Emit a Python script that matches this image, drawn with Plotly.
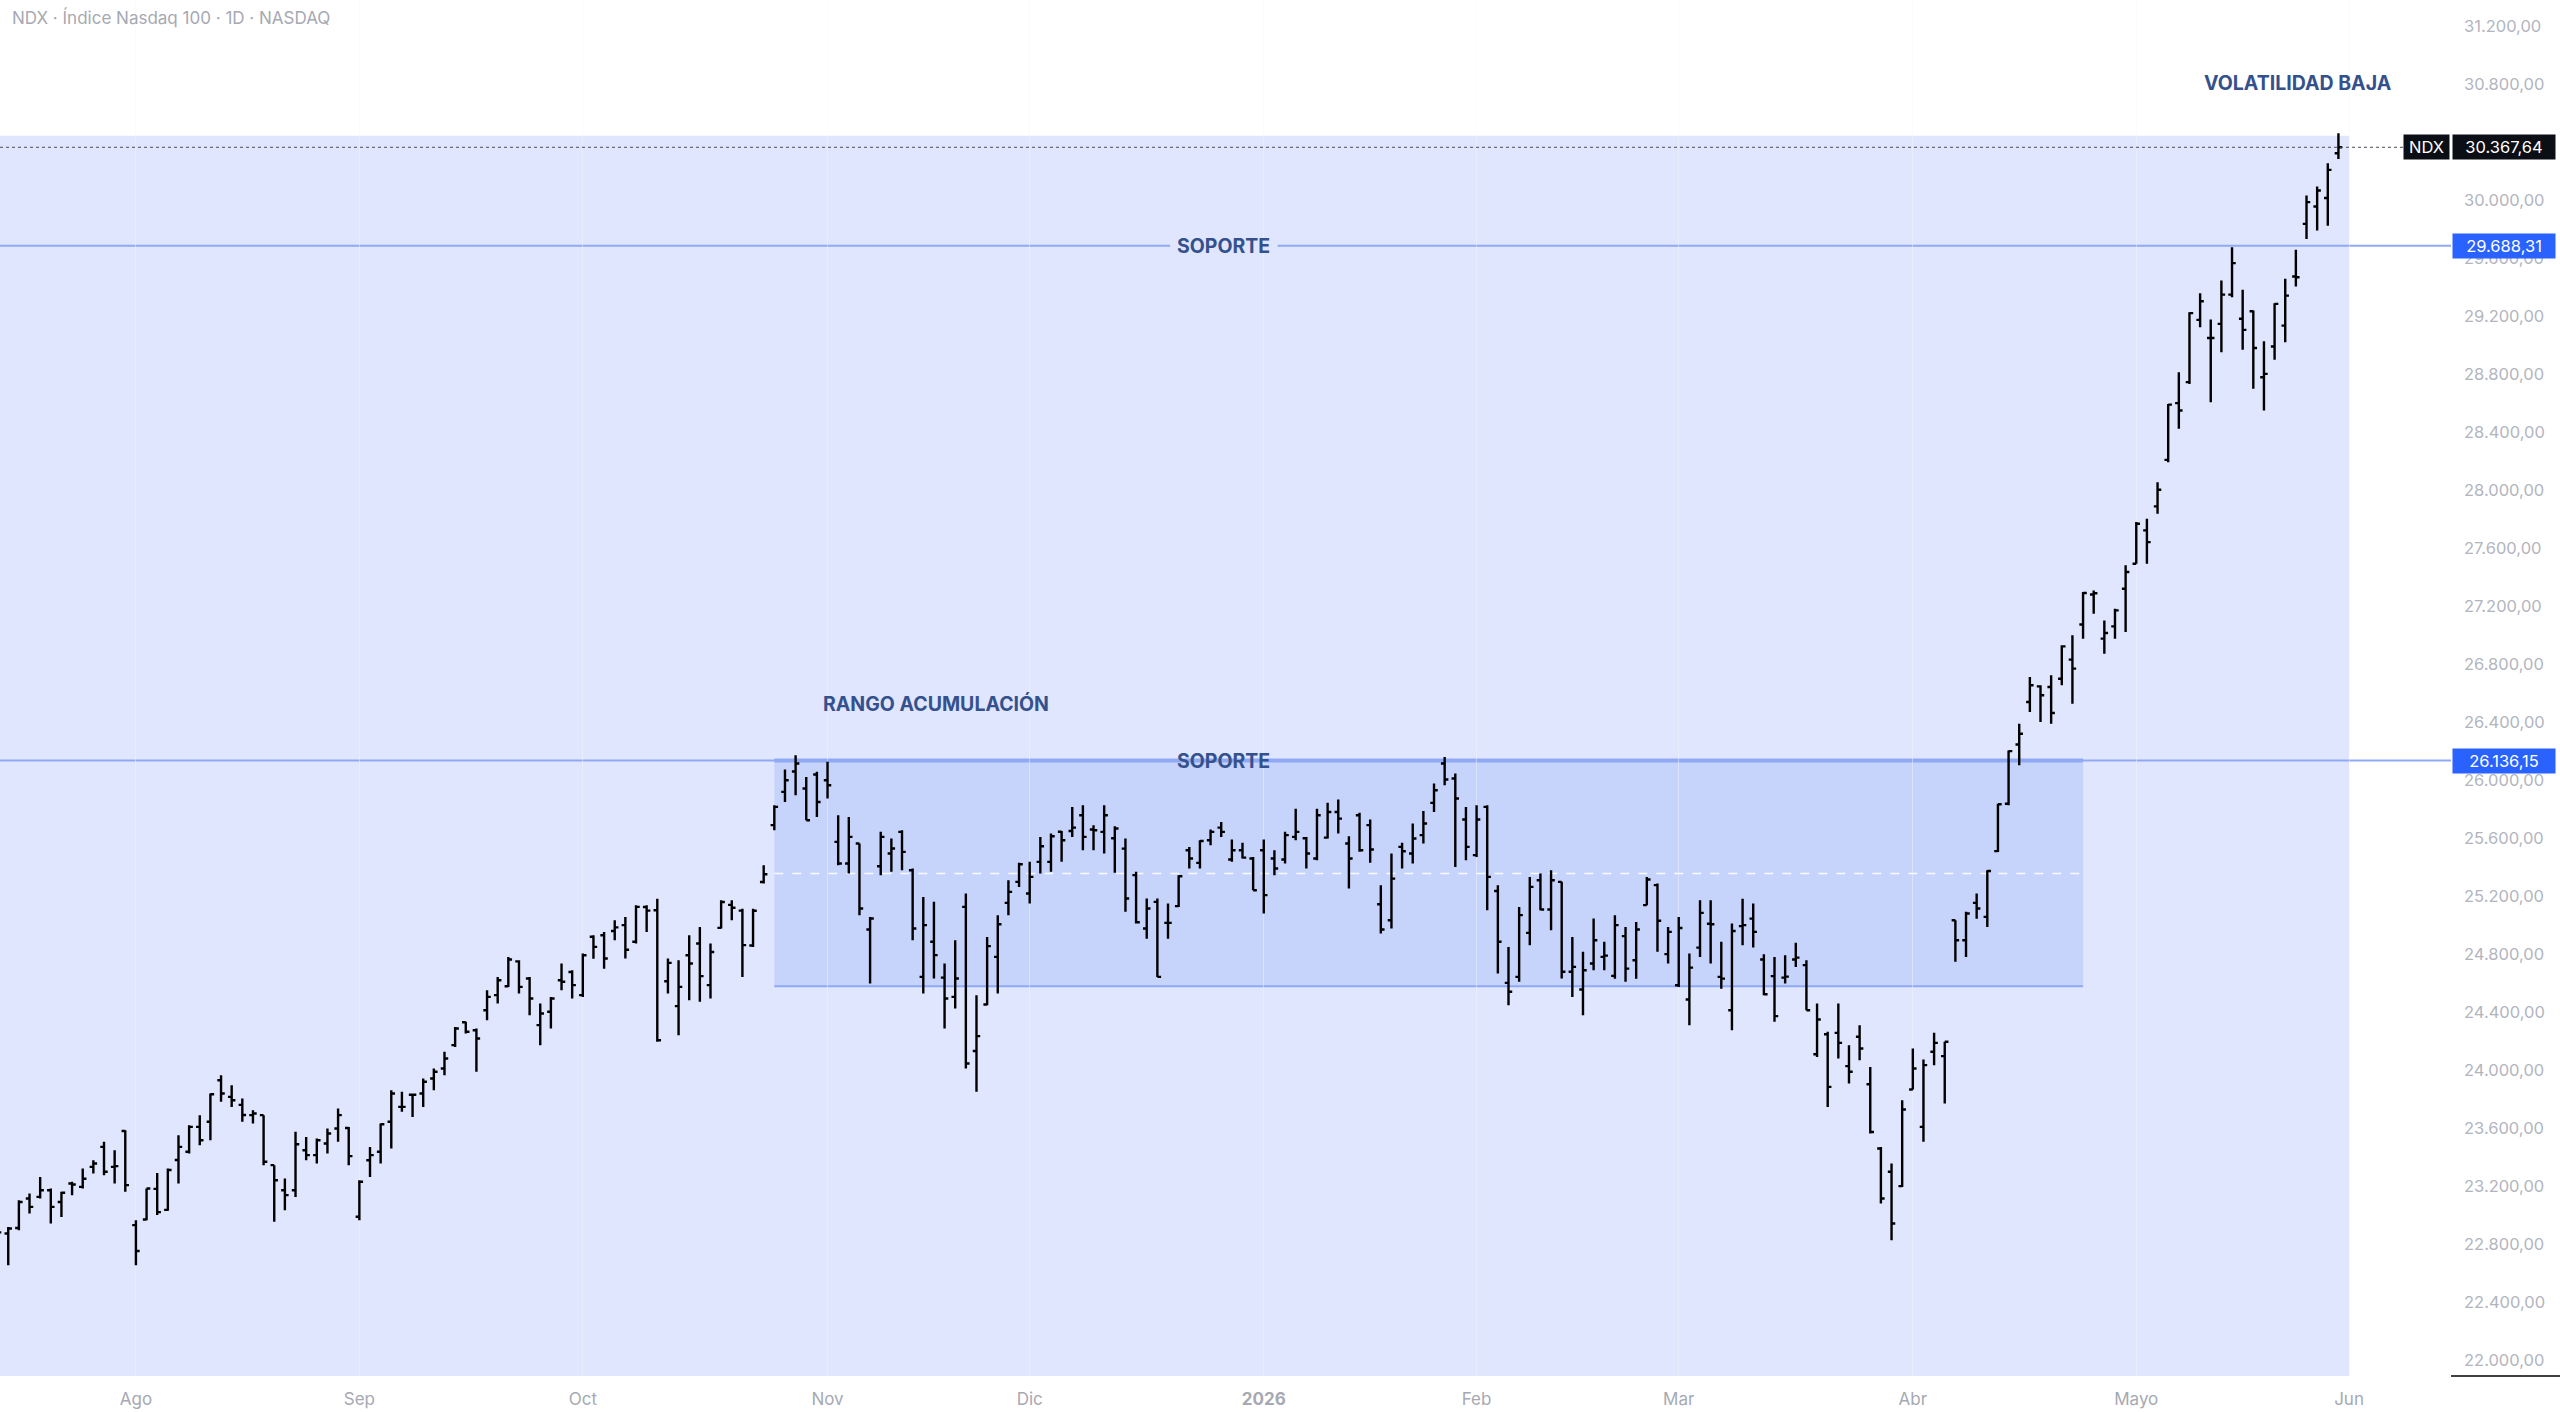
import pandas as pd
import plotly.graph_objects as go

# NASDAQ sessions shown on the chart (15 Jul 2025 - 29 May 2026)
holidays = ["2025-09-01", "2025-11-27", "2025-12-25", "2026-01-01",
            "2026-01-19", "2026-02-16", "2026-04-03", "2026-05-25"]
dates = pd.bdate_range("2025-07-15", "2026-05-29", freq="C", holidays=holidays)
date_str = list(dates.strftime("%Y-%m-%d"))

# daily OHLC
opens = [
    23000, 22872, 22910, 23114, 23125, 23171, 23090, 23217, 23194, 23332, 23470, 23332, 23580,  # jul
    22930, 22969, 23180, 23035, 23380, 23436, 23608, 23643, 23930, 23815, 23760, 23689, 23689,
    23344, 23171, 23171, 23447, 23413, 23493, 23597, 23600,  # ago
    22988, 23378, 23436, 23643, 23746, 23830, 23838, 23942, 24011, 24172, 24330, 24275, 24413,
    24517, 24578, 24750, 24632, 24310, 24402, 24620, 24677,  # sep
    24517, 24920, 24930, 24960, 25000, 24885, 25125, 25103, 24613, 24441, 24792, 24873, 24586,
    24981, 25140, 25100, 24860, 25298, 25690, 25920, 26060, 25943, 26040,  # oct
    26000, 25575, 25425, 25563, 24970, 25407, 25494, 25644, 25379, 24643, 24885, 24638, 24505,
    25126, 24132, 24452, 24781, 25154, 25299,  # nov
    25218, 25437, 25437, 25645, 25650, 25758, 25660, 25644, 25600, 25528, 25345, 24977, 25161,
    25016, 25131, 25517, 25430, 25586, 25673, 25453, 25517, 25460,  # dic
    25517, 25460, 25453, 25609, 25600, 25460, 25604, 25781, 25563, 25758, 25690, 25144, 25034,
    25540, 25494, 25621, 25844, 26115, 26012, 25729,  # ene
    25483, 25816, 25236, 24602, 24643, 24947, 25310, 25108, 25299, 24678, 24556, 24735, 24781,
    24650, 24924, 24758, 25138, 25276, 24800,  # feb
    24585, 24487, 24845, 25010, 24643, 24413, 24993, 25045, 24763, 24648, 24638, 24763, 24724,
    24109, 24247, 24257, 24027, 24230, 23902, 23459, 23298, 23199,  # mar
    23866, 23608, 24126, 24096, 25034, 24896, 25154, 25057, 25511, 25838, 26247, 26540, 26648,
    26643, 26700, 26832, 27075, 27282, 26977, 27062, 27321,  # abr
    27494, 27724, 27890, 28211, 28602, 28747, 29177, 29052, 29149, 29351, 29184, 29236, 28781,
    28993, 29137, 29476, 29839, 29959, 30018, 30327,  # may
]
highs = [
    23056, 22918, 23102, 23148, 23263, 23183, 23160, 23229, 23321, 23378, 23505, 23447, 23585,
    22964, 23183, 23290, 23320, 23551, 23620, 23689, 23838, 23965, 23896, 23804, 23723, 23689,
    23344, 23252, 23574, 23539, 23528, 23597, 23735, 23608,
    23240, 23470, 23631, 23861, 23850, 23838, 23942, 24011, 24126, 24298, 24333, 24287, 24551,
    24643, 24781, 24758, 24643, 24459, 24505, 24735, 24689,
    24804, 24930, 24953, 25034, 25057, 25137, 25137, 25183, 24770, 24758, 24930, 24988, 24873,
    25172, 25172, 25114, 25114, 25413, 25827, 26074, 26172, 26023, 26058,
    26127, 25758, 25747, 25563, 25057, 25644, 25598, 25655, 25391, 25195, 25161, 24735, 24896,
    25218, 24517, 24919, 25069, 25310, 25430,
    25437, 25609, 25632, 25650, 25816, 25827, 25690, 25827, 25683, 25598, 25368, 25184, 25184,
    25149, 25345, 25540, 25586, 25660, 25712, 25591, 25568, 25471,
    25591, 25517, 25644, 25804, 25609, 25804, 25844, 25867, 25614, 25775, 25729, 25276, 25494,
    25568, 25701, 25788, 25977, 26161, 26046, 25816,
    25827, 25827, 25276, 24850, 25126, 25333, 25356, 25379, 25299, 24919, 24816, 25046, 24885,
    25068, 24988, 25022, 25333, 25287, 24988,
    25057, 24804, 25172, 25172, 24885, 25011, 25183, 25149, 24799, 24781, 24792, 24878, 24758,
    24459, 24264, 24459, 24172, 24310, 24022, 23470, 23355, 23792,
    24149, 24073, 24257, 24195, 25034, 25092, 25218, 25379, 25838, 26206, 26390, 26712, 26655,
    26724, 26931, 27000, 27299, 27310, 27103, 27184, 27483,
    27782, 27805, 28057, 28597, 28816, 29230, 29361, 29179, 29448, 29678, 29384, 29241, 29029,
    29292, 29460, 29660, 30035, 30097, 30258, 30465,
]
lows = [
    22872, 22654, 22895, 23010, 23114, 22941, 22987, 23137, 23183, 23286, 23275, 23217, 23160,
    22654, 22964, 23000, 23030, 23217, 23424, 23482, 23516, 23781, 23746, 23643, 23631, 23344,
    22953, 23033, 23125, 23378, 23355, 23424, 23505, 23344,
    22964, 23263, 23355, 23459, 23712, 23677, 23746, 23861, 23965, 24160, 24252, 23988, 24344,
    24459, 24574, 24528, 24379, 24172, 24287, 24551, 24494,
    24505, 24769, 24700, 24896, 24770, 24873, 24953, 24195, 24528, 24241, 24482, 24471, 24494,
    24977, 25034, 24643, 24850, 25287, 25655, 25850, 25897, 25724, 25747,
    25874, 25414, 25356, 25069, 24597, 25345, 25368, 25379, 24896, 24528, 24632, 24287, 24425,
    24011, 23850, 24448, 24528, 25069, 25264,
    25149, 25356, 25368, 25437, 25609, 25517, 25517, 25494, 25361, 25092, 25011, 24907, 24643,
    24907, 25126, 25391, 25391, 25551, 25609, 25437, 25460, 25241,
    25080, 25345, 25425, 25586, 25391, 25448, 25598, 25632, 25253, 25506, 25430, 24942, 24977,
    25391, 25425, 25563, 25781, 25965, 25402, 25448,
    25471, 25103, 24666, 24448, 24609, 24862, 25103, 24965, 24632, 24505, 24379, 24689, 24689,
    24631, 24609, 24631, 25138, 24816, 24735,
    24574, 24310, 24781, 24735, 24562, 24275, 24862, 24845, 24517, 24333, 24597, 24712, 24413,
    24091, 23746, 24080, 23907, 24068, 23562, 23079, 22826, 23194,
    23866, 23505, 24034, 23769, 24747, 24781, 25045, 24988, 25505, 25827, 26103, 26471, 26402,
    26390, 26655, 26528, 26977, 27149, 26873, 26977, 27023,
    27494, 27494, 27839, 28195, 28425, 28735, 29126, 28609, 28954, 29333, 28970, 28701, 28551,
    28901, 29022, 29407, 29735, 29793, 29827, 30287,
]
closes = [
    22880, 22907, 23090, 23056, 23171, 23056, 23153, 23210, 23250, 23355, 23298, 23337, 23206,
    22752, 23183, 23020, 23310, 23470, 23608, 23516, 23833, 23838, 23792, 23690, 23700, 23367,
    23240, 23137, 23488, 23413, 23516, 23562, 23689, 23406,
    23229, 23413, 23626, 23838, 23746, 23830, 23919, 23988, 24080, 24287, 24264, 24218, 24505,
    24620, 24763, 24574, 24494, 24390, 24494, 24610, 24586,
    24792, 24850, 24770, 24985, 24830, 25126, 25100, 24206, 24740, 24574, 24735, 24648, 24815,
    25160, 25120, 24862, 25099, 25351, 25816, 26000, 26115, 25724, 25850,
    25965, 25425, 25609, 25115, 25046, 25609, 25529, 25506, 24977, 25000, 24793, 24494, 24632,
    24045, 24234, 24855, 25006, 25230, 25420,
    25333, 25545, 25614, 25586, 25673, 25609, 25655, 25758, 25667, 25184, 25020, 25115, 24643,
    25016, 25338, 25460, 25581, 25644, 25644, 25517, 25466, 25241,
    25207, 25391, 25621, 25644, 25494, 25758, 25781, 25735, 25460, 25517, 25522, 24970, 25321,
    25510, 25598, 25701, 25931, 26005, 25874, 25540,
    25729, 25333, 24885, 24540, 25069, 25264, 25108, 25310, 24678, 24712, 24689, 24896, 24790,
    25000, 24700, 24970, 25315, 25030, 24954,
    24980, 24707, 25085, 25006, 24631, 24960, 25000, 24954, 24523, 24372, 24645, 24776, 24413,
    24349, 23884, 24188, 23988, 24149, 23573, 23114, 22941, 23728,
    24011, 24034, 24188, 24195, 24896, 25080, 25115, 25374, 25834, 26201, 26321, 26655, 26586,
    26464, 26924, 26770, 27292, 27290, 27016, 27172, 27437,
    27770, 27643, 28005, 28592, 28551, 29223, 29305, 29052, 29351, 29568, 29108, 28983, 28804,
    29287, 29344, 29471, 29989, 30069, 30212, 30367.64,
]

month_labels = ["Ago", "Sep", "Oct", "Nov", "Dic", "<b>2026</b>", "Feb", "Mar", "Abr", "Mayo", "Jun"]
price_ticks = list(range(22000, 31201, 400))

# drawn levels / zones
support_high = 29688.31
support_low = 26136.15
range_floor = 24578
range_start, range_end = "2025-10-27", "2026-04-24"
zone_top = 30448

x = list(range(len(dates)))
month_starts = [i for i in range(1, len(dates)) if dates[i].month != dates[i - 1].month]
tick_pos = month_starts + [len(dates)]  # Jun 1 is the next session after the last bar
r0 = date_str.index(range_start)
r1 = date_str.index(range_end)
zone_end = len(dates)
mid = (support_low + range_floor) / 2


def fmt(v):
    return f"{v:,.2f}".replace(",", "X").replace(".", ",").replace("X", ".")


FONT = "Inter"
TXT_BLUE = "#34518e"
LINE_BLUE = "#8fa9f5"

fig = go.Figure()
fig.add_trace(go.Ohlc(
    x=x, open=opens, high=highs, low=lows, close=closes,
    increasing=dict(line=dict(color="#000000", width=2.4)),
    decreasing=dict(line=dict(color="#000000", width=2.4)),
    tickwidth=0.35, hoverinfo="skip", showlegend=False,
))

shapes = [
    # light zone
    dict(type="rect", xref="x", yref="y", x0=-10, x1=zone_end, y0=20000, y1=zone_top,
         fillcolor="#dfe6fd", line_width=0, layer="below"),
    # accumulation range box
    dict(type="rect", xref="x", yref="y", x0=r0, x1=r1, y0=range_floor, y1=support_low,
         fillcolor="#c6d3fb", line_width=0, layer="below"),
    dict(type="line", xref="x", yref="y", x0=r0, x1=r1, y0=support_low, y1=support_low,
         line=dict(color=LINE_BLUE, width=4), layer="below"),
    dict(type="line", xref="x", yref="y", x0=r0, x1=r1, y0=range_floor, y1=range_floor,
         line=dict(color=LINE_BLUE, width=2), layer="below"),
    dict(type="line", xref="x", yref="y", x0=r0, x1=r1, y0=mid, y1=mid,
         line=dict(color="rgba(255,255,255,0.9)", width=1.5, dash="dash"), layer="below"),
    # last price dotted line
    dict(type="line", xref="paper", yref="y", x0=0, x1=0.981, y0=closes[-1], y1=closes[-1],
         line=dict(color="#4a4d57", width=1, dash="dot")),
    # short line under the price scale
    dict(type="line", xref="paper", yref="paper", x0=1, x1=1.05, y0=0, y1=0,
         line=dict(color="#000000", width=1.5)),
]

# support lines with a gap for their label
label_x, gap = 115.25, 5.05
for lvl in (support_high, support_low):
    for a, b in ((-10, label_x - gap), (label_x + gap, 300)):
        shapes.append(dict(type="line", xref="x", yref="y", x0=a, x1=b, y0=lvl, y1=lvl,
                           line=dict(color=LINE_BLUE, width=2), layer="below"))

annotations = [
    dict(x=0.004, y=0.987, xref="paper", yref="paper", xanchor="left", yanchor="middle",
         text="NDX · Índice Nasdaq 100 · 1D · NASDAQ", showarrow=False,
         font=dict(family=FONT, size=17, color="#a6a9b2")),
    dict(x=216.2, y=30811, xref="x", yref="y", text="<b>VOLATILIDAD BAJA</b>", showarrow=False,
         font=dict(family=FONT, size=19.5, color=TXT_BLUE)),
    dict(x=77.4, y=26526, xref="x", yref="y", xanchor="left", text="<b>RANGO ACUMULACIÓN</b>",
         showarrow=False, font=dict(family=FONT, size=19.5, color=TXT_BLUE)),
]
for lvl in (support_high, support_low):
    annotations.append(dict(x=label_x, y=lvl, xref="x", yref="y", yanchor="middle",
                            text="<b>SOPORTE</b>", showarrow=False,
                            font=dict(family=FONT, size=19.5, color=TXT_BLUE)))
    annotations.append(dict(x=1, y=lvl, xref="paper", yref="y", xanchor="left", xshift=1,
                            text=fmt(lvl), showarrow=False, bgcolor="#2962ff",
                            width=102, height=24, borderpad=0,
                            font=dict(family=FONT, size=16.5, color="#ffffff")))
annotations.append(dict(x=1, y=closes[-1], xref="paper", yref="y", xanchor="left", xshift=1,
                        text=fmt(closes[-1]), showarrow=False, bgcolor="#0c0e15",
                        width=102, height=24, borderpad=0,
                        font=dict(family=FONT, size=16.5, color="#ffffff")))
annotations.append(dict(x=1, y=closes[-1], xref="paper", yref="y", xanchor="right", xshift=-1,
                        text="NDX", showarrow=False, bgcolor="#0c0e15",
                        width=45, height=24, borderpad=0,
                        font=dict(family=FONT, size=16.5, color="#ffffff")))

fig.update_layout(
    width=2560, height=1412,
    margin=dict(l=0, r=109, t=0, b=36),
    paper_bgcolor="#ffffff", plot_bgcolor="#ffffff",
    separators=",.",
    showlegend=False,
    shapes=shapes,
    annotations=annotations,
    xaxis=dict(
        range=[0.2256, 230.58], rangeslider=dict(visible=False),
        tickmode="array", tickvals=tick_pos, ticktext=month_labels,
        showgrid=True, gridcolor="rgba(244,246,252,0.45)", gridwidth=1,
        zeroline=False, showline=False, ticks="", ticklabelstandoff=11,
        tickfont=dict(family=FONT, size=17, color="#a6a9b2"),
        fixedrange=True,
    ),
    yaxis=dict(
        side="right", range=[21889, 31384],
        tickmode="array", tickvals=price_ticks, tickformat=",.2f",
        showgrid=False, zeroline=False, showline=False, ticks="", ticklabelstandoff=12,
        tickfont=dict(family=FONT, size=16.5, color="#b2b5be"),
        fixedrange=True,
    ),
)

fig.write_html("out.html", config={"displayModeBar": False},
               post_script="document.body.style.margin='0';")
